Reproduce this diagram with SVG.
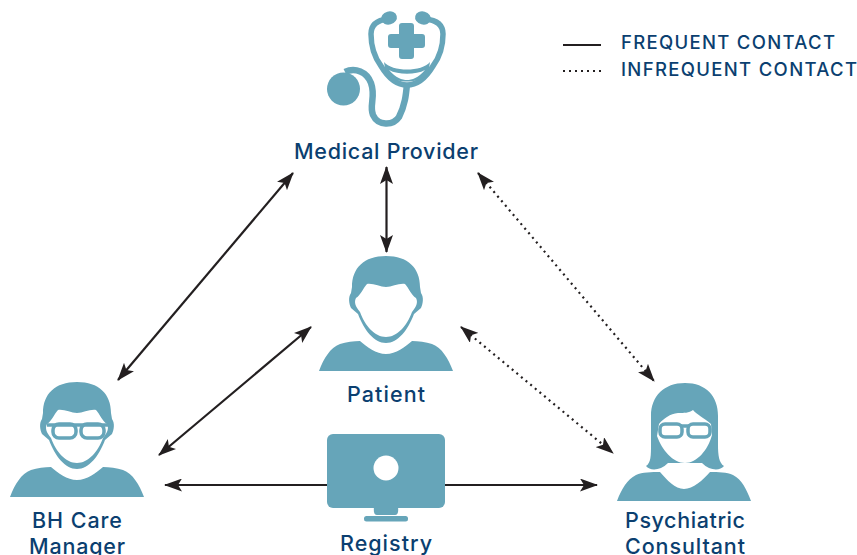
<svg xmlns="http://www.w3.org/2000/svg" width="857" height="555" viewBox="0 0 857 555">
<style>
.t{fill:#0b3f70;font-family:"Inter","Liberation Sans",sans-serif;font-weight:500;font-size:21.500px;text-anchor:start}
.l{font-size:18.500px;font-weight:500}
.i{fill:#66a5b9}
.w{fill:#fff}
.c{fill:none;stroke:#231f20;stroke-width:2.200}
.d{stroke-dasharray:2 4}
.g{fill:none;stroke:#66a5b9;stroke-width:3.500}
</style>
<defs>
<marker id="a" viewBox="0 0 18 13" refX="17" refY="6.500" markerWidth="18" markerHeight="13" markerUnits="userSpaceOnUse" orient="auto-start-reverse"><path d="M0 0L18 6.500L0 13L4 6.500Z" fill="#231f20"/></marker>
<g id="man">
<path class="i" d="M386 256C364 256 352 268 352 287L351 293C348 297 349 304 351 308L358 314C364 330 374 343 386 343C398 343 408 330 414 314L421 308C423 304 424 297 421 293L420 287C420 268 408 256 386 256Z"/>
<path class="w" d="M367 284C373 283 380 287 386 287C392 287 399 283 405 284C409 288 411 295 416 298C418 302 417 306 412 312C407 326 397 337 386 337C375 337 365 326 360 312C355 306 354 302 356 298C361 295 363 288 367 284Z"/>
<path class="i" d="M319 371C324 358 330 348 340 344C346 342 354 341 360 341C367 347 376 354 386 354C396 354 405 347 412 341C418 341 426 342 432 344C442 348 448 358 453 371Z"/>
</g>
</defs>
<g id="connectors">
<path class="c" d="M293 173L118 380" marker-start="url(#a)" marker-end="url(#a)"/>
<path class="c" d="M386.500 167V252" marker-start="url(#a)" marker-end="url(#a)"/>
<path class="c d" d="M478 173L654 381" marker-start="url(#a)" marker-end="url(#a)"/>
<path class="c" d="M311 327L159 455" marker-start="url(#a)" marker-end="url(#a)"/>
<path class="c d" d="M461 327L613 453" marker-start="url(#a)" marker-end="url(#a)"/>
<path class="c" d="M327 485H165" marker-end="url(#a)"/>
<path class="c" d="M445 485H597" marker-end="url(#a)"/>
</g>
<g id="legend">
<path class="c" d="M563 45H601"/>
<path class="c d" d="M563 71H603"/>
<text class="t l" x="621" y="49" textLength="214">FREQUENT CONTACT</text>
<text class="t l" x="621" y="76" textLength="236">INFREQUENT CONTACT</text>
</g>
<g id="medical-provider">
<path d="M388 19C378 20 371 24 371 34C371 48 375 58 381 66C387 76 396 85 407 85C418 85 427 76 433 66C439 58 443 48 443 34C443 24 436 20 425 19" fill="none" stroke="#66a5b9" stroke-width="5.500"/>
<ellipse class="i" cx="389" cy="18" rx="8" ry="6.500" transform="rotate(-15 389 18)"/>
<ellipse class="i" cx="423" cy="18" rx="8" ry="6.500" transform="rotate(15 423 18)"/>
<path class="i" d="M402 23H411Q414 23 414 26V34H422Q425 34 425 37V45Q425 48 422 48H414V56Q414 59 411 59H402Q399 59 399 56V48H391Q388 48 388 45V37Q388 34 391 34H399V26Q399 23 402 23Z"/>
<path class="i" d="M384 62C392 72 422 72 430 62L428 74C420 84 394 84 386 74Z"/>
<path class="w" d="M389 70C398 75 416 75 425 70C418 78 412 80 407 80C402 80 396 78 389 70Z"/>
<path d="M407 84C406 95 405 105 399 117C393 126 378 126 373 115C369 105 376 97 371 83C367 72 355 67 345 72" fill="none" stroke="#66a5b9" stroke-width="6.500"/>
<circle class="i" cx="343.500" cy="89" r="16.500"/>
<text class="t" x="294" y="158.500" textLength="184">Medical Provider</text>
</g>
<g id="patient">
<use href="#man"/>
<text class="t" x="347" y="401.500" textLength="78">Patient</text>
</g>
<g id="bh-care-manager">
<use href="#man" x="-309" y="126"/>
<rect class="g" x="53" y="424" width="23" height="14" rx="6"/>
<rect class="g" x="81" y="424" width="23" height="14" rx="6"/>
<path class="g" d="M47 425H109"/>
<text class="t" x="32" y="527.500" textLength="90">BH Care</text>
<text class="t" x="29" y="553.500" textLength="96">Manager</text>
</g>
<g id="psychiatric-consultant">
<path class="i" d="M685 383C664 383 651 396 651 416V445C651 455 651 463 646 466C650 471 660 471 668 463H702C710 471 720 471 724 466C719 463 718 455 718 445V416C718 396 706 383 685 383Z"/>
<path class="w" d="M659 424C664 418 670 414 678 413C684 413 689 413 693 410C696 414 704 418 711 424L712 435C708 450 697 463 685 463C673 463 662 450 657 436Z"/>
<path class="i" d="M617 501C622 488 627 480 636 475C642 472 652 472 660 472C667 480 675 489 684 489C693 489 703 480 710 472C718 472 727 472 733 475C742 480 746 488 751 501Z"/>
<rect class="g" x="660" y="424" width="22" height="13" rx="5"/>
<rect class="g" x="688" y="424" width="22" height="13" rx="5"/>
<path class="g" d="M681 426H689"/>
<text class="t" x="625" y="527.500" textLength="120">Psychiatric</text>
<text class="t" x="625" y="553.500" textLength="120">Consultant</text>
</g>
<g id="registry">
<rect class="i" x="327" y="434" width="118" height="74" rx="6"/>
<circle class="w" cx="386" cy="468" r="12.500"/>
<path class="i" d="M374 507H398Q399 515 395 515H377Q373 515 374 507Z"/>
<rect class="i" x="364" y="516" width="44" height="5.500" rx="2.500"/>
<text class="t" x="340" y="550.500" textLength="92">Registry</text>
</g>
</svg>
